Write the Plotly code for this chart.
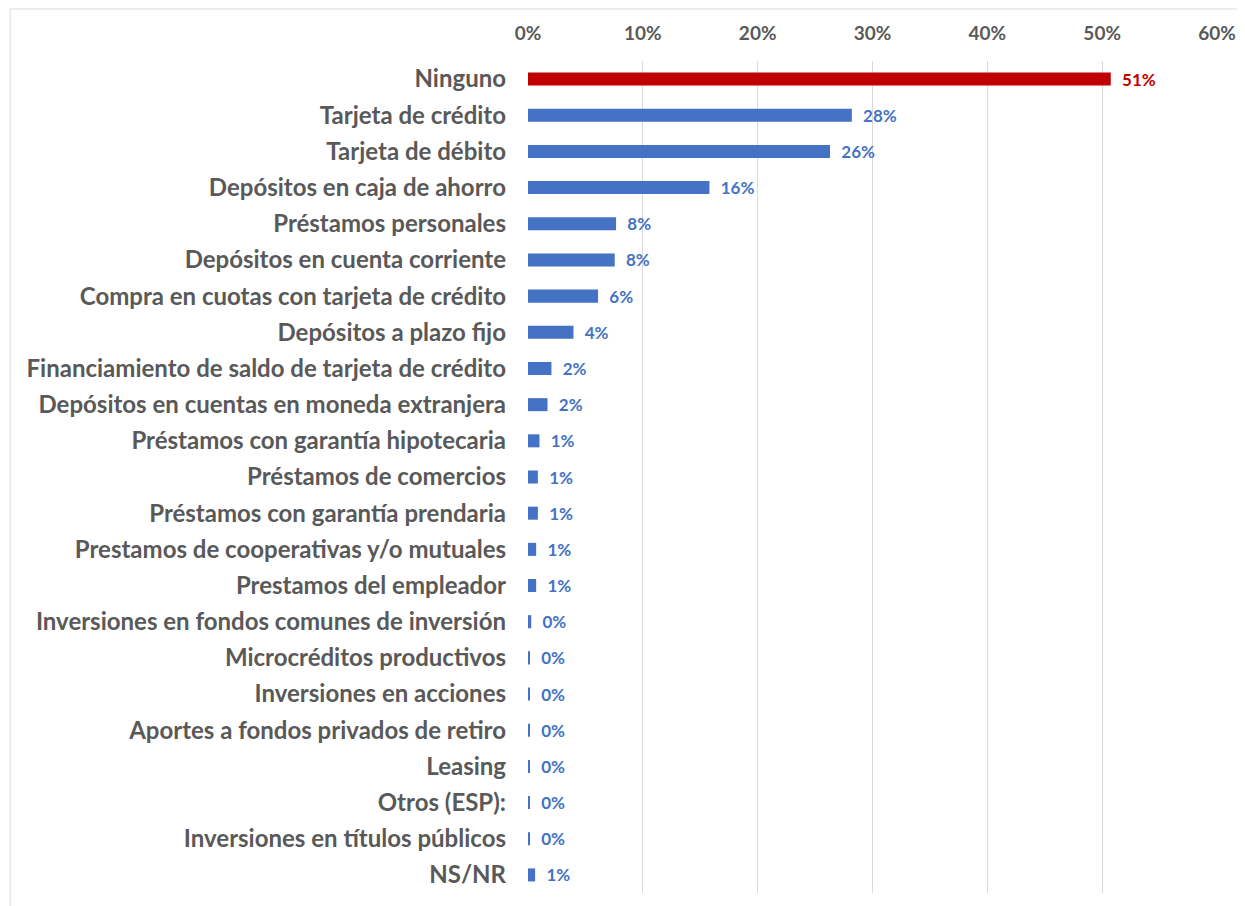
import plotly.graph_objects as go

categories = [
    "Ninguno",
    "Tarjeta de crédito",
    "Tarjeta de débito",
    "Depósitos en caja de ahorro",
    "Préstamos personales",
    "Depósitos en cuenta corriente",
    "Compra en cuotas con tarjeta de crédito",
    "Depósitos a plazo fijo",
    "Financiamiento de saldo de tarjeta de crédito",
    "Depósitos en cuentas en moneda extranjera",
    "Préstamos con garantía hipotecaria",
    "Préstamos de comercios",
    "Préstamos con garantía prendaria",
    "Prestamos de cooperativas y/o mutuales",
    "Prestamos del empleador",
    "Inversiones en fondos comunes de inversión",
    "Microcréditos productivos",
    "Inversiones en acciones",
    "Aportes a fondos privados de retiro",
    "Leasing",
    "Otros (ESP):",
    "Inversiones en títulos públicos",
    "NS/NR",
]
values = [50.75, 28.2, 26.3, 15.8, 7.67, 7.55, 6.1, 3.96, 2.04, 1.7, 1.0, 0.86,
          0.86, 0.71, 0.71, 0.28, 0.16, 0.16, 0.16, 0.16, 0.16, 0.16, 0.62]
x_ticks = [0, 10, 20, 30, 40, 50, 60]
x_tick_labels = ["0%", "10%", "20%", "30%", "40%", "50%", "60%"]

BLUE = "#4472C4"
RED = "#C00000"
colors = [RED if c == "Ninguno" else BLUE for c in categories]
labels = ["\u00a0\u00a0" + f"{round(v):.0f}%" for v in values]

FONT = "Lato"
W, H = 1245, 906
OFF = 8  # page body margin
L, T = 527.5 - OFF, 61 - OFF
R = W - (1217.3 - OFF)
B = H - (893 - OFF)

fig = go.Figure(go.Bar(
    x=values, y=categories, orientation="h",
    marker=dict(color=colors, line=dict(width=0)),
    text=labels, textposition="outside", cliponaxis=False, constraintext="none",
    textfont=dict(family=FONT, size=17, color=colors, weight="bold"),
    hoverinfo="skip",
))

pw = W - L - R
ph = H - T - B
bx, by = 9 - OFF, 9 - OFF
fig.add_shape(type="rect", xref="paper", yref="paper",
              x0=(bx - L) / pw, x1=(W + 20 - L) / pw,
              y0=(H - (H + 20) - B) / ph, y1=(H - by - B) / ph,
              line=dict(color="#D9D9D9", width=1), fillcolor="rgba(0,0,0,0)", layer="below")

fig.update_layout(
    width=W, height=H,
    margin=dict(l=L, r=R, t=T, b=B, pad=0),
    paper_bgcolor="white", plot_bgcolor="white",
    bargap=0.64, showlegend=False,
    xaxis=dict(range=[0, 60], side="top", tickvals=x_ticks, ticktext=x_tick_labels,
               showgrid=True, gridcolor="#D9D9D9", gridwidth=1, zeroline=False,
               showline=False, ticks="", ticklabelstandoff=16,
               tickfont=dict(family=FONT, size=19, color="#595959", weight="bold")),
    yaxis=dict(categoryorder="array", categoryarray=categories, autorange="reversed",
               showgrid=False, zeroline=False, showline=False, ticks="",
               ticklabelstandoff=21,
               tickfont=dict(family=FONT, size=24, color="#595959", weight="bold")),
)

fig.write_html("out.html")
